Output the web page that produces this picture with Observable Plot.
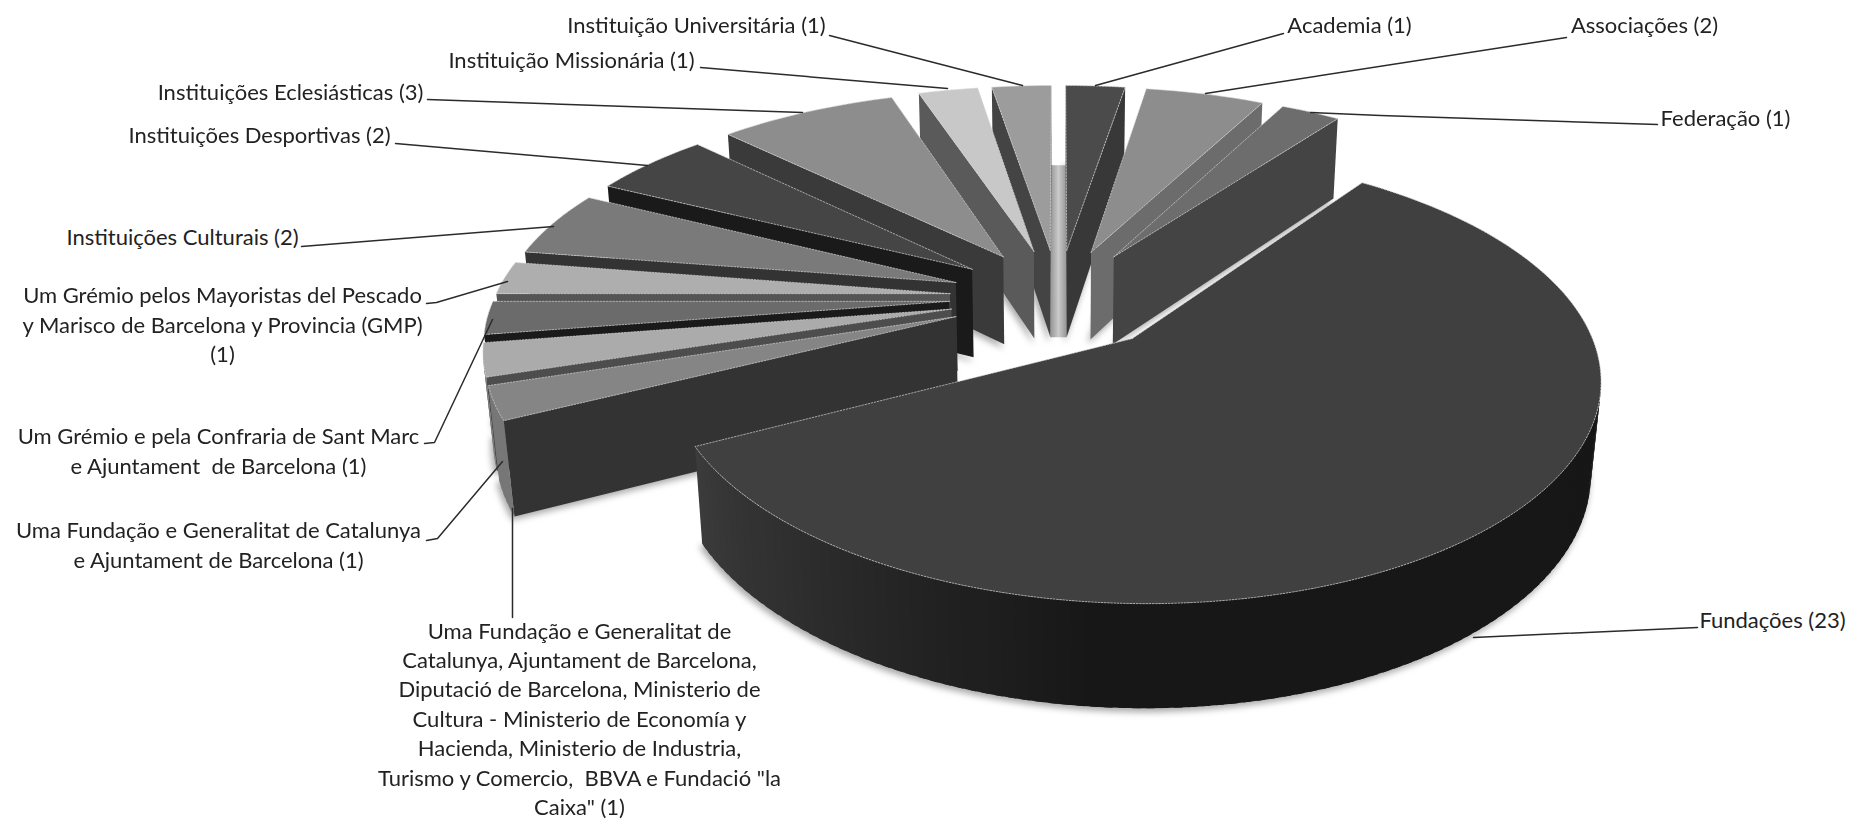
<!DOCTYPE html>
<html>
<head>
<meta charset="utf-8">
<script src="https://cdn.jsdelivr.net/npm/d3@7"></script>
<script src="https://cdn.jsdelivr.net/npm/@observablehq/plot@0.6"></script>
<style>
  html, body { margin: 0; padding: 0; background: #fff; }
  svg { display: block; }
</style>
</head>
<body>
<div id="chart"></div>
<script>
// ---- data, clockwise from twelve o'clock ----
const sliceNames = [
  "Academia (1)",
  "Associações (2)",
  "Federação (1)",
  "Fundações (23)",
  "Uma Fundação e Generalitat de\nCatalunya, Ajuntament de Barcelona,\nDiputació de Barcelona, Ministerio de\nCultura - Ministerio de Economía y\nHacienda, Ministerio de Industria,\nTurismo y Comercio,  BBVA e Fundació \"la\nCaixa\" (1)",
  "Uma Fundação e Generalitat de Catalunya\ne Ajuntament de Barcelona (1)",
  "Um Grémio e pela Confraria de Sant Marc\ne Ajuntament  de Barcelona (1)",
  "Um Grémio pelos Mayoristas del Pescado\ny Marisco de Barcelona y Provincia (GMP)\n(1)",
  "Instituições Culturais (2)",
  "Instituições Desportivas (2)",
  "Instituições Eclesiásticas (3)",
  "Instituição Missionária (1)",
  "Instituição Universitária (1)"
];
const sliceValues = [1, 2, 1, 23, 1, 1, 1, 1, 2, 2, 3, 1, 1];

// ---- styles ----
const topShades  = ["#4b4b4b","#8d8d8d","#6d6d6d","#404040","#858585","#ababab","#6b6b6b","#aeaeae","#7a7a7a","#454545","#8d8d8d","#c8c8c8","#9c9c9c"];
const wallShades = ["#383838","#6c6c6c","#444444","#171717","#333333","#4d4d4d","#1a1a1a","#555555","#333333","#1a1a1a","#3a3a3a","#5a5a5a","#444444"];
const rimShades  = ["#383838","#6c6c6c","#444444","#171717","#777777","#777777","#555555","#777777","#555555","#222222","#555555","#777777","#666666"];

// ---- text layout ----
const labelX = [1349, 1644, 1725, 1772, 579, 218, 218, 222, 182, 259, 290, 571, 696];
const labelY = [23, 23, 116, 618, 717, 543, 449, 323, 235, 133, 90, 58, 23];
const leaderPaths = [
  [[1283,33],[1095,85]],
  [[1566,37],[1205,93]],
  [[1657,124],[1380,115],[1310,112]],
  [[1697,627],[1473,637]],
  [[512,617],[512,508]],
  [[426,540],[437,538],[502,461]],
  [[424,443],[434,442],[492,319]],
  [[426,303],[436,302],[507,281]],
  [[301,246],[553,226]],
  [[395,143],[647,165]],
  [[427,99],[802,112]],
  [[700,67],[947,88]],
  [[829,35],[1022,85]]
];

// ---- 3D pie model ----
const W = 1849, H = 819;
const cx = 1058, cy = 297, scaleX = 455, scaleY = 205, depth = 91;
const persp = 0.16, perspNear = 0.168, persp2 = 0.018, explode = 0.24;
const project = (X, Y, Z) => {
  const w = 1 + persp * Y + persp2 * Z;
  const wy = 1 + (Y < 0 ? perspNear : persp) * Y + persp2 * Z;
  return [cx + scaleX * X / w, cy + (-scaleY * Y + depth * Z) / wy];
};
const rad = (d) => d * Math.PI / 180;
const total = d3.sum(sliceValues);
const largest = d3.max(sliceValues);

const polys = [], shadows = [];
let nextId = 0;
const addPoly = (pts, fill, stroke) => {
  const id = nextId++;
  [...pts, pts[0]].forEach(([x, y]) => polys.push({id, x, y, fill, stroke}));
};
const area2 = (p) => d3.sum(p, (a, i) => {
  const b = p[(i + 1) % p.length];
  return a[0] * b[1] - b[0] * a[1];
});

let acc = 0;
const slices = sliceValues.map((v, i) => {
  const a0 = acc / total * 360;
  acc += v;
  const a1 = acc / total * 360;
  return {i, a0, a1, mid: (a0 + a1) / 2};
});

// far slices first, so near ones paint over them
const order = d3.sort(slices, (s) => -Math.cos(rad(s.mid)));

for (const s of order) {
  const big = sliceValues[s.i] === largest;
  const e = big ? 0.255 : explode;
  const rx = big ? 0.98 : 1;
  const ax = e * Math.sin(rad(s.mid)) - (big ? 0.0085 : 0);
  const ay = e * Math.cos(rad(s.mid));
  const rim = (a, Z) => project(ax + rx * Math.sin(rad(a)), ay + Math.cos(rad(a)), Z);
  const n = Math.max(2, Math.ceil((s.a1 - s.a0) / 1.5));
  const step = (s.a1 - s.a0) / n;
  const angles = d3.range(n + 1).map((k) => s.a0 + step * k);
  const apexTop = project(ax, ay, 0), apexBot = project(ax, ay, 1);

  // ground shadow
  [apexBot, ...angles.map((a) => rim(a, 1)), apexBot].forEach(([x, y]) => shadows.push({id: s.i, x, y}));

  // cut faces: start wall and end wall, only when they face the viewer
  const startWall = [apexTop, rim(s.a0, 0), rim(s.a0, 1), apexBot];
  const endWall   = [apexTop, rim(s.a1, 0), rim(s.a1, 1), apexBot];
  if (area2(startWall) < 0) addPoly(startWall, wallShades[s.i], "none");
  if (area2(endWall) > 0) addPoly(endWall, wallShades[s.i], "none");

  // rim wall, a quad per step where the arc faces the viewer
  for (let k = 0; k < n; k++) {
    const a = angles[k], b = angles[k + 1];
    if (rim(b, 0)[0] >= rim(a, 0)[0]) continue;
    const bb = Math.min(b + step * 0.6, s.a1);
    let shade = rimShades[s.i];
    if (big && a > 185) {
      shade = d3.interpolateRgb(rimShades[s.i], "#3c3c3c")((a - 185) / (s.a1 - 185));
    }
    addPoly([rim(a, 0), rim(bb, 0), rim(bb, 1), rim(a, 1)], shade, "none");
  }

  // top face
  addPoly([apexTop, ...angles.map((a) => rim(a, 0))], topShades[s.i], "#d2d2d2");
}

// the sliver seen through the gap between the first and last slices
const first = slices[0], last = slices[slices.length - 1];
const gapTopY = explode + 0.48;
const gapL = explode * Math.sin(rad(last.mid)), gapR = explode * Math.sin(rad(first.mid));
const gapAY = explode * Math.cos(rad(first.mid));
const gapTop = (X) => project(X, gapTopY, 0);
const gapBot = (X) => project(X, gapAY, 1);
const gap = [];
[gapTop(gapL), gapTop(gapR), gapBot(gapR), gapBot(gapL), gapTop(gapL)].forEach(([x, y]) => gap.push({x, y}));

// labels and leaders
const labels = sliceNames.map((name, i) => ({name, x: labelX[i], y: labelY[i]}));
const leaders = leaderPaths.flatMap((path, id) => path.map(([x, y]) => ({id, x, y})));

const gradient = () => {
  const svg = d3.create("svg:defs");
  const g = svg.append("linearGradient").attr("id", "gapShade");
  g.append("stop").attr("offset", "0").attr("stop-color", "#959595");
  g.append("stop").attr("offset", "0.5").attr("stop-color", "#cacaca");
  g.append("stop").attr("offset", "1").attr("stop-color", "#959595");
  return svg.node();
};

const chart = Plot.plot({
  width: W,
  height: H,
  margin: 0,
  x: {domain: [0, W], range: [0, W], axis: null},
  y: {domain: [0, H], range: [0, H], axis: null},
  color: {type: "identity"},
  style: {background: "#fff", fontFamily: "Lato, sans-serif"},
  marks: [
    gradient,
    Plot.line(shadows, {x: "x", y: "y", z: "id", fill: "#666", stroke: "#666", dx: -2, dy: 3, opacity: 0.55, imageFilter: "blur(3px)"}),
    Plot.line(gap, {x: "x", y: "y", fill: "url(#gapShade)", stroke: "none"}),
    Plot.line(polys, {x: "x", y: "y", z: "id", fill: "fill", stroke: "stroke", strokeWidth: 0.7, strokeDasharray: "1.6 1.6"}),
    Plot.line(leaders, {x: "x", y: "y", z: "id", stroke: "#2b2b2b", strokeWidth: 1.5}),
    Plot.text(labels, {x: "x", y: "y", text: "name", fontSize: 22, lineHeight: 1.34, fill: "#222", textAnchor: "middle"})
  ]
});
document.getElementById("chart").append(chart);
</script>
</body>
</html>
